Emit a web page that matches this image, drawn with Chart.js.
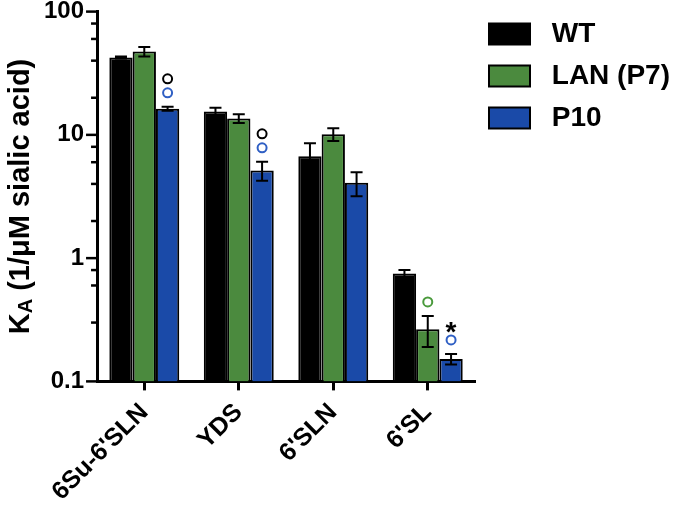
<!DOCTYPE html>
<html>
<head>
<meta charset="utf-8">
<script src="https://cdn.jsdelivr.net/npm/chart.js@4/dist/chart.umd.min.js"></script>
<style>
  html, body { margin: 0; padding: 0; background: #fff; }
  #wrap { width: 680px; height: 513px; position: relative; }
</style>
</head>
<body>
<div id="wrap"><canvas id="kaChart"></canvas></div>
<script>
// categories and series
const categories = ['6Su-6\'SLN', 'YDS', '6\'SLN', '6\'SL'];
const seriesNames = ['WT', 'LAN (P7)', 'P10'];
const wtValues = [42.5, 15.5, 6.7, 0.75];
const wtErrors = [0.8, 1.1, 1.85, 0.05];
const lanValues = [47.5, 13.6, 10.1, 0.265];
const lanErrors = [4.2, 1.1, 1.2, 0.075];
const p10Values = [16.3, 5.15, 4.08, 0.152];
const p10Errors = [0.6, 0.9, 0.9, 0.015];
const yTicksMajor = [0.1, 1, 10, 100];
// significance marks: [category index, series index, symbol, colour]
const marks = [
    [0, 2, 'o', '#2f5fc4'], [0, 2, 'o', '#000'],
    [1, 2, 'o', '#2f5fc4'], [1, 2, 'o', '#000'],
    [3, 1, 'o', '#4a9a3c'],
    [3, 2, 'o', '#2f5fc4'], [3, 2, '*', '#000']
];

const FONT = '"Liberation Sans", Arial, Helvetica, sans-serif';
const colors = ['#000000', '#4b8a3e', '#1a4aa8'];
const errors = [wtErrors, lanErrors, p10Errors];

// error bars, y ticks, marks and the axis title
const extrasPlugin = {
    id: 'extras',
    afterDatasetsDraw(chart) {
        const ctx = chart.ctx;
        const y = chart.scales.y;
        const area = chart.chartArea;
        ctx.save();
        ctx.strokeStyle = '#000';
        ctx.lineWidth = 2;
        // error bars
        chart.data.datasets.forEach((ds, i) => {
            const meta = chart.getDatasetMeta(i);
            meta.data.forEach((bar, j) => {
                const v = ds.data[j], e = errors[i][j];
                const top = y.getPixelForValue(v + e);
                const bot = y.getPixelForValue(v - e);
                ctx.beginPath();
                ctx.moveTo(bar.x, top); ctx.lineTo(bar.x, bot);
                ctx.moveTo(bar.x - 6, top); ctx.lineTo(bar.x + 6, top);
                ctx.moveTo(bar.x - 6, bot); ctx.lineTo(bar.x + 6, bot);
                ctx.stroke();
            });
        });
        // y ticks (long at decades, short in between)
        ctx.lineWidth = 2.5;
        y.ticks.forEach(t => {
            const py = y.getPixelForValue(t.value);
            const major = Math.abs(Math.log10(t.value) - Math.round(Math.log10(t.value))) < 1e-6;
            const len = major ? 11 : 6;
            ctx.beginPath();
            ctx.moveTo(area.left - len, py); ctx.lineTo(area.left, py);
            ctx.stroke();
        });
        // significance marks
        const stack = {};
        marks.forEach(([c, s, sym, col]) => {
            const key = c + '_' + s;
            const n = stack[key] || 0;
            stack[key] = n + 1;
            const bar = chart.getDatasetMeta(s).data[c];
            const ds = chart.data.datasets[s];
            const base = y.getPixelForValue(ds.data[c] + errors[s][c]);
            const py = base - 14 - 14 * n;
            if (sym === 'o') {
                ctx.strokeStyle = col;
                ctx.lineWidth = 2;
                ctx.beginPath();
                ctx.arc(bar.x, py, 4.5, 0, Math.PI * 2);
                ctx.stroke();
            } else {
                ctx.fillStyle = col;
                ctx.font = 'bold 28px ' + FONT;
                ctx.textAlign = 'center';
                ctx.textBaseline = 'middle';
                ctx.fillText(sym, bar.x, py + 7);
            }
        });
        // y axis title with subscript
        ctx.fillStyle = '#000';
        ctx.textBaseline = 'alphabetic';
        ctx.textAlign = 'left';
        const cy = (area.top + area.bottom) / 2;
        ctx.translate(29, cy);
        ctx.rotate(-Math.PI / 2);
        const big = 'bold 29px ' + FONT, small = 'bold 20px ' + FONT;
        ctx.font = big; const wK = ctx.measureText('K').width;
        const rest = ' (1/\u03bcM sialic acid)';
        const wR = ctx.measureText(rest).width;
        ctx.font = small; const wA = ctx.measureText('A').width;
        let x0 = -(wK + wA + wR) / 2;
        ctx.font = big; ctx.fillText('K', x0, 0); x0 += wK;
        ctx.font = small; ctx.fillText('A', x0, 3); x0 += wA;
        ctx.font = big; ctx.fillText(rest, x0, 0);
        ctx.restore();
    }
};

new Chart(document.getElementById('kaChart'), {
    type: 'bar',
    data: {
        labels: categories,
        datasets: [
            { label: seriesNames[0], data: wtValues },
            { label: seriesNames[1], data: lanValues },
            { label: seriesNames[2], data: p10Values }
        ].map((d, i) => Object.assign(d, {
            backgroundColor: colors[i],
            borderColor: '#000',
            borderWidth: 2,
            categoryPercentage: 0.74,
            barPercentage: 1.0
        }))
    },
    options: {
        responsive: true,
        maintainAspectRatio: false,
        animation: false,
        layout: { padding: { top: 6, left: 42, bottom: -1, right: 0 } },
        plugins: {
            tooltip: { enabled: false },
            legend: {
                position: 'right',
                align: 'start',
                maxWidth: 230,
                labels: {
                    boxWidth: 41,
                    boxHeight: 21,
                    padding: 14,
                    color: '#000',
                    font: { family: FONT, size: 28, weight: 'bold' },
                    generateLabels(chart) {
                        return Chart.defaults.plugins.legend.labels.generateLabels(chart)
                            .map(l => Object.assign(l, { text: ' ' + l.text }));
                    }
                }
            }
        },
        scales: {
            x: {
                grid: { display: true, drawOnChartArea: false, offset: false, tickLength: 9, tickWidth: 3, color: '#000' },
                border: { display: true, color: '#000', width: 3 },
                ticks: {
                    color: '#000',
                    minRotation: 45,
                    maxRotation: 45,
                    padding: 10,
                    font: { family: FONT, size: 25, weight: 'bold', lineHeight: 0.9 }
                }
            },
            y: {
                type: 'logarithmic',
                min: 0.1,
                max: 100,
                grid: { display: true, drawOnChartArea: false, tickLength: 11, color: 'rgba(0,0,0,0)' },
                border: { display: true, color: '#000', width: 3 },
                ticks: {
                    color: '#000',
                    padding: 2,
                    font: { family: FONT, size: 24, weight: 'bold', lineHeight: 0.8 },
                    callback(value) {
                        return yTicksMajor.some(m => Math.abs(m - value) < m * 1e-6) ? String(value) : '';
                    }
                }
            }
        }
    },
    plugins: [extrasPlugin]
});
</script>
</body>
</html>
